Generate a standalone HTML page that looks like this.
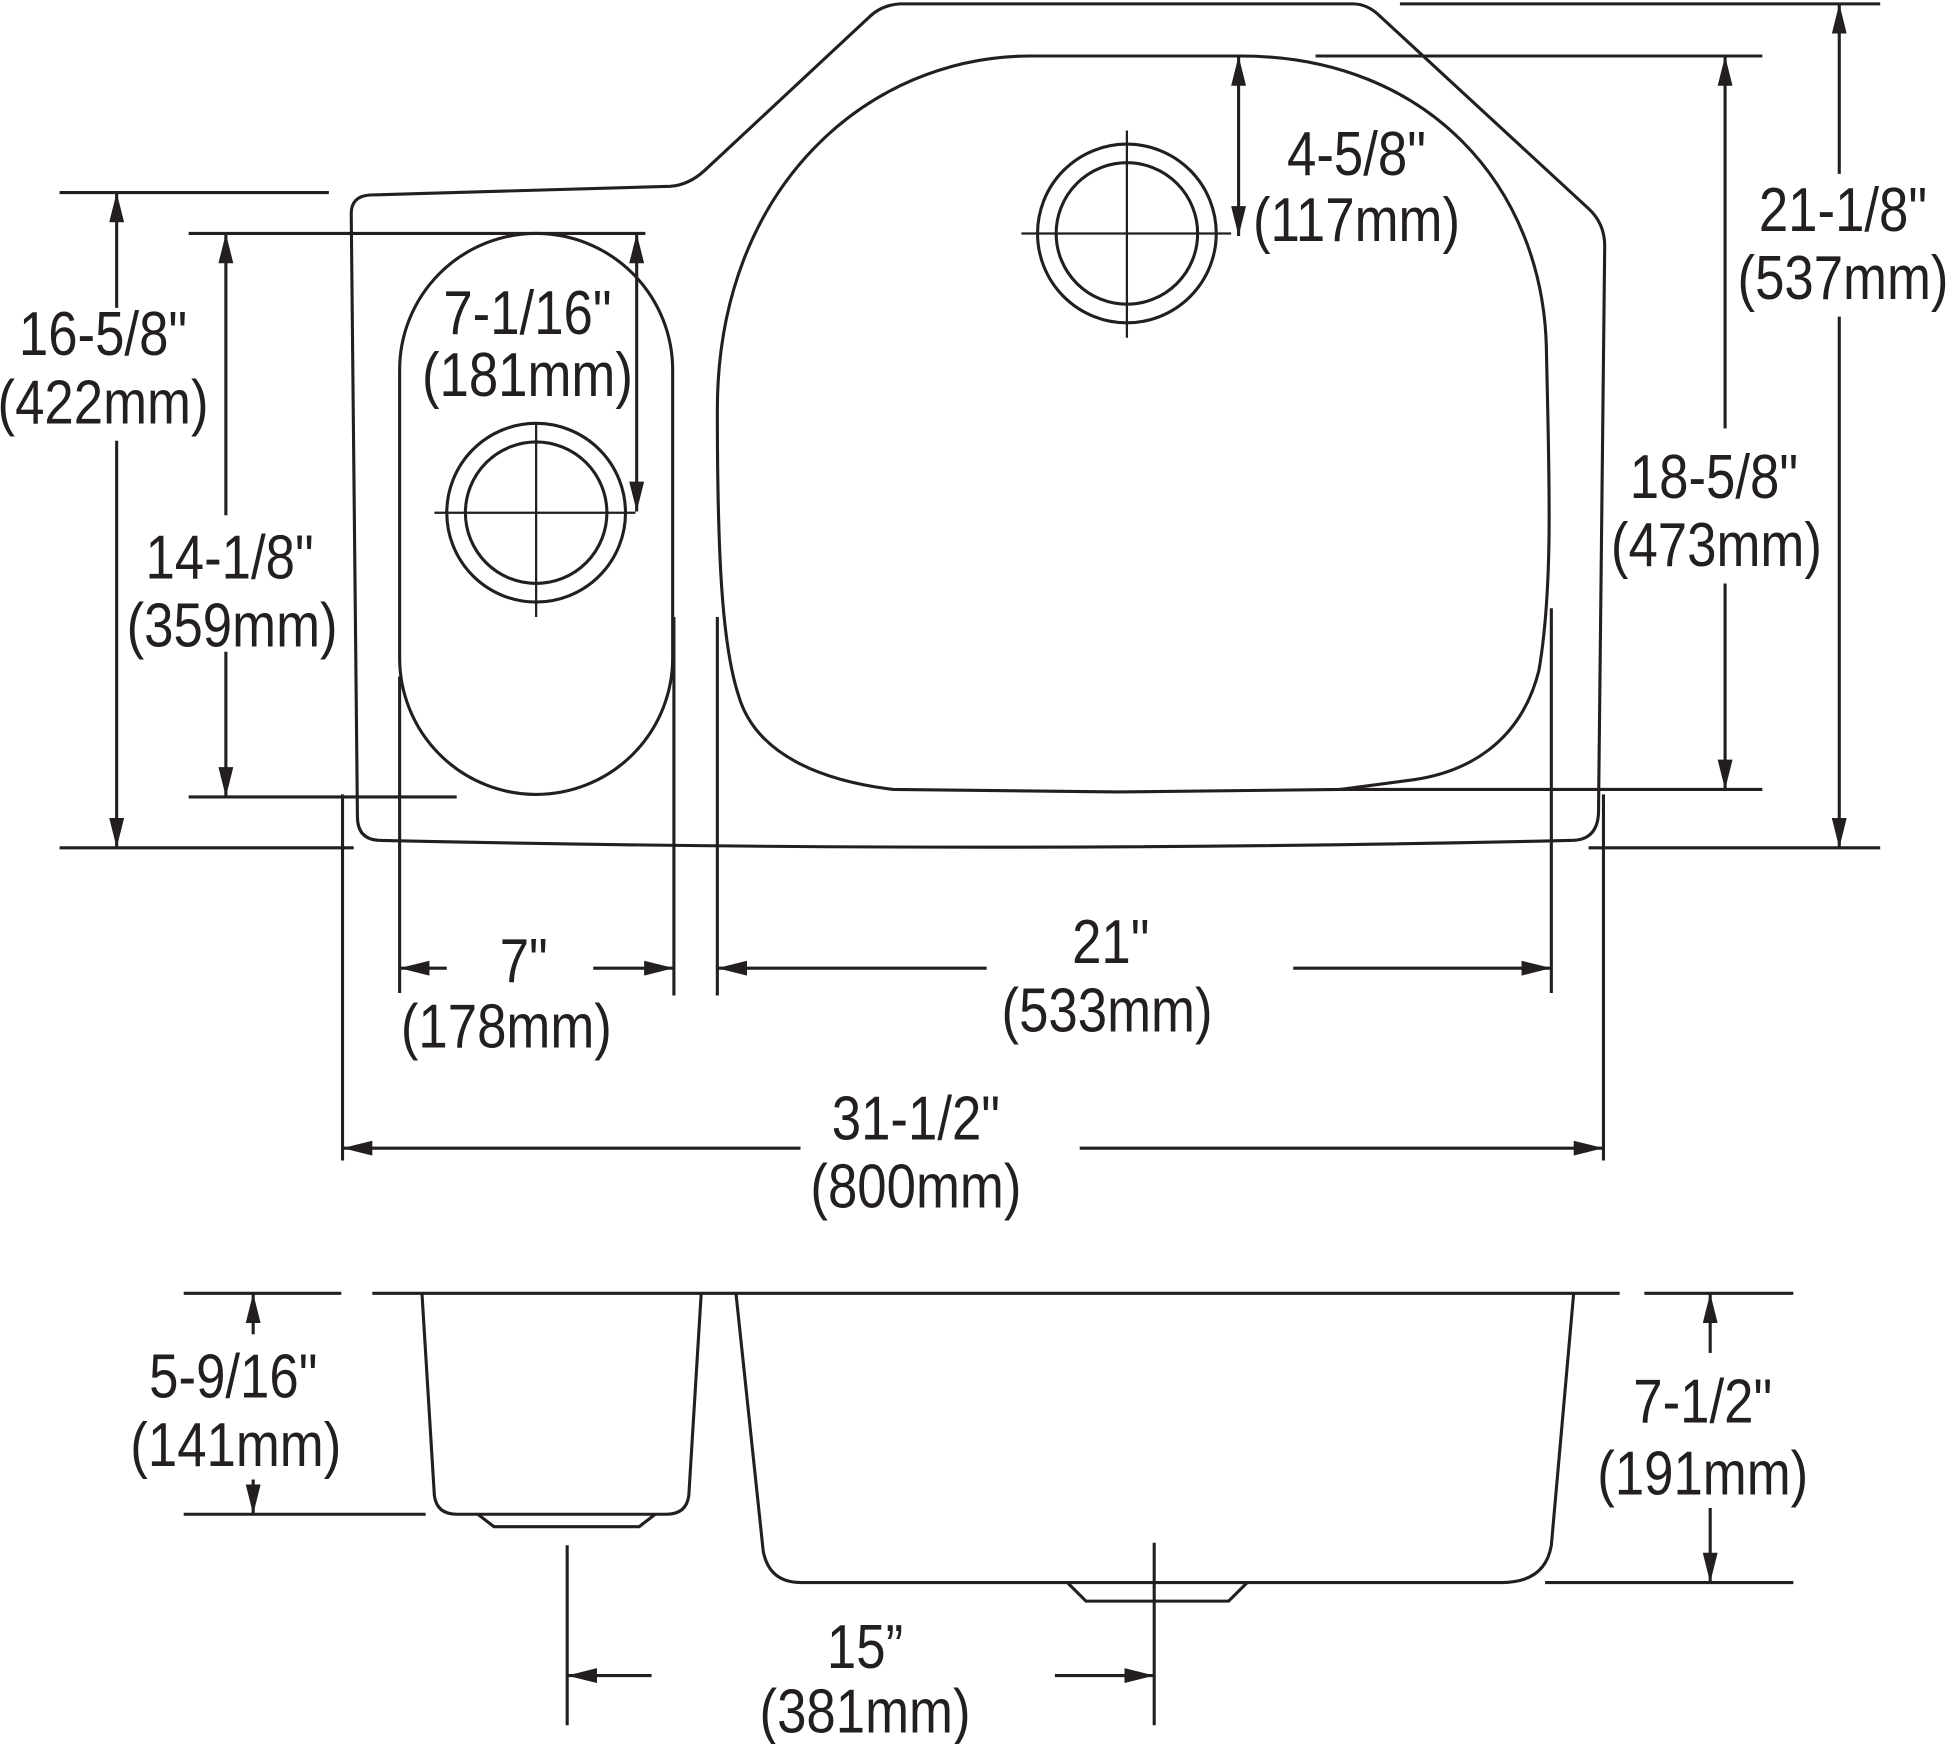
<!DOCTYPE html>
<html><head><meta charset="utf-8"><style>
html,body{margin:0;padding:0;background:#fff;}
svg{display:block;}
text{font-family:"Liberation Sans Narrow","Liberation Sans",sans-serif;font-size:50px;fill:#231f20;text-anchor:middle;transform-box:fill-box;transform-origin:center;transform:scaleX(0.85);}
</style></head><body>
<svg width="1946" height="1744" viewBox="0 0 1568 1405" xmlns="http://www.w3.org/2000/svg">
<defs>
<marker id="a" viewBox="0 0 24 12" refX="24" refY="6" markerWidth="24" markerHeight="12" markerUnits="userSpaceOnUse" orient="auto-start-reverse">
<path d="M0,0 L24,6 L0,12 Z" fill="#231f20"/></marker>
</defs>
<g fill="none" stroke="#231f20" stroke-width="2.5">
<path d="M283,172 Q283,158 298,157 L540,150 Q555,149 568,137 L700,14 Q710,4 725,3 L1090,3 Q1102,3 1112,13 L1280,168 Q1293,180 1293,198 L1288,655 Q1287,676 1268,677 Q800,688 305,677 Q288,676 288,658 Z"/>
<path d="M322,298 A110,110 0 0 1 542,298 L542,530 A110,110 0 0 1 322,530 Z"/>
<circle cx="432" cy="413" r="72"/><circle cx="432" cy="413" r="57"/>
<path d="M350,413 H512 M432,340 V497" stroke-width="1.8"/>
<path d="M578,330 C578,150 700,45 830,45 L1000,45 C1150,45 1243,150 1246,280 C1248,380 1252,470 1240,540 C1225,600 1180,622 1140,628 L1080,636 L900,638 L720,636 C670,630 610,612 595,560 C582,520 578,450 578,330 Z"/>
<circle cx="908" cy="188" r="72"/><circle cx="908" cy="188" r="57"/>
<path d="M823,188 H992 M908,105 V272" stroke-width="1.8"/>
<path d="M48,155 H265 M48,683 H285 M152,188 H520 M152,642 H368 M1060,45 H1420 M1078,636 H1420 M1128,3 H1515 M1280,683 H1515 M322,545 V800 M543,497 V802 M578,497 V802 M1250,490 V800 M276,640 V935 M1292,640 V935"/>
<path d="M94,355 V683" marker-end="url(#a)"/>
<path d="M94,248 V155" marker-end="url(#a)"/>
<path d="M182,415 V188" marker-end="url(#a)"/>
<path d="M182,525 V642" marker-end="url(#a)"/>
<path d="M513,188 V412" marker-start="url(#a)" marker-end="url(#a)"/>
<path d="M998,45 V190" marker-start="url(#a)" marker-end="url(#a)"/>
<path d="M1390,345 V45" marker-end="url(#a)"/>
<path d="M1390,470 V636" marker-end="url(#a)"/>
<path d="M1482,140 V3" marker-end="url(#a)"/>
<path d="M1482,255 V683" marker-end="url(#a)"/>
<path d="M360,780 H322" marker-end="url(#a)"/>
<path d="M478,780 H543" marker-end="url(#a)"/>
<path d="M795,780 H578" marker-end="url(#a)"/>
<path d="M1042,780 H1250" marker-end="url(#a)"/>
<path d="M645,925 H276" marker-end="url(#a)"/>
<path d="M870,925 H1292" marker-end="url(#a)"/>
<path d="M300,1042 H1305 M148,1042 H275 M148,1220 H343 M1325,1042 H1445 M1245,1275 H1445 M457,1245 V1390 M930,1243 V1390"/>
<path d="M340,1042 L350,1205 Q352,1220 368,1220 L537,1220 Q553,1220 555,1205 L565,1042"/>
<path d="M385,1220 L398,1230 L515,1230 L528,1220"/>
<path d="M593,1042 L615,1250 Q620,1275 645,1275 L1210,1275 Q1245,1275 1250,1245 L1268,1042"/>
<path d="M860,1275 L875,1290 L990,1290 L1005,1275"/>
<path d="M204,1075 V1042" marker-end="url(#a)"/>
<path d="M204,1192 V1220" marker-end="url(#a)"/>
<path d="M1378,1090 V1042" marker-end="url(#a)"/>
<path d="M1378,1215 V1275" marker-end="url(#a)"/>
<path d="M525,1350 H457" marker-end="url(#a)"/>
<path d="M850,1350 H930" marker-end="url(#a)"/>
</g>
<text x="83" y="286">16-5/8"</text><text x="83" y="341">(422mm)</text>
<text x="185" y="466">14-1/8"</text><text x="187" y="521">(359mm)</text>
<text x="425" y="269">7-1/16"</text><text x="425" y="319">(181mm)</text>
<text x="1093" y="141">4-5/8"</text><text x="1093" y="194">(117mm)</text>
<text x="1381" y="401">18-5/8"</text><text x="1383" y="456">(473mm)</text>
<text x="1485" y="186">21-1/8"</text><text x="1485" y="241">(537mm)</text>
<text x="422" y="791">7"</text><text x="408" y="844">(178mm)</text>
<text x="895" y="776">21"</text><text x="892" y="831">(533mm)</text>
<text x="738" y="918">31-1/2"</text><text x="738" y="973">(800mm)</text>
<text x="188" y="1126">5-9/16"</text><text x="190" y="1181">(141mm)</text>
<text x="1372" y="1146">7-1/2"</text><text x="1372" y="1204">(191mm)</text>
<text x="697" y="1344">15”</text><text x="697" y="1396">(381mm)</text>
</svg>
</body></html>
